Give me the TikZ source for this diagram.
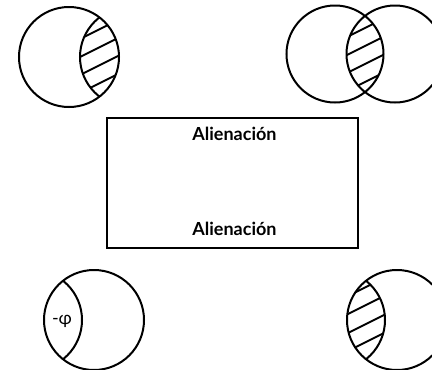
\documentclass[tikz,border=0pt]{standalone}
\usepackage{fontspec}
\setmainfont{Lato}
\begin{document}
\begin{tikzpicture}[x=1pt,y=-1pt,
  ring/.style={line width=2pt},
  hatch/.style={line width=1.8pt},
  frame/.style={draw, line width=1.5pt, minimum width=251pt, minimum height=130pt, inner sep=0pt},
  label/.style={font=\fontsize{18}{20}\selectfont\bfseries, inner sep=0pt}]
\useasboundingbox (0,0) rectangle (432,370);
% top-left: circle with hatched lens on the right
\begin{scope}
  \clip (69,57) circle (50);
  \clip (130,57) circle (50);
  \foreach \y in {29,47,65,83} \draw[hatch] (60,\y+20) -- (140,\y-20);
\end{scope}
\draw[ring] (69,57) circle (50);
\begin{scope}
  \clip (69,57) circle (50);
  \draw[ring] (130,57) circle (50);
\end{scope}
% top-right: two circles with hatched intersection
\begin{scope}
  \clip (335,54) circle (48.5);
  \clip (395,54) circle (48.5);
  \foreach \y in {28,46,64,82} \draw[hatch] (325,\y+20) -- (405,\y-20);
\end{scope}
\draw[ring] (335,54) circle (48.5);
\draw[ring] (395,54) circle (48.5);
% central box
\node[frame] (box) at (232.5,183) {};
\node[label] (t1) at (234.5,134) {Alienación};
\node[label] (t2) at (234.5,229) {Alienación};
% bottom-left: circle with lens on the left, labelled -phi
\draw[ring] (94,320) circle (50);
\begin{scope}
  \clip (94,320) circle (50);
  \draw[ring] (32,320) circle (50);
\end{scope}
\node[font=\fontsize{18}{20}\selectfont, inner sep=0pt] (phi) at (62,321) {-φ};
% bottom-right: circle with hatched lens on the left
\begin{scope}
  \clip (397,320) circle (50);
  \clip (335,320) circle (50);
  \foreach \y in {285,303,322,340} \draw[hatch] (330,\y+20) -- (410,\y-20);
\end{scope}
\draw[ring] (397,320) circle (50);
\begin{scope}
  \clip (397,320) circle (50);
  \draw[ring] (335,320) circle (50);
\end{scope}
\end{tikzpicture}
\end{document}
